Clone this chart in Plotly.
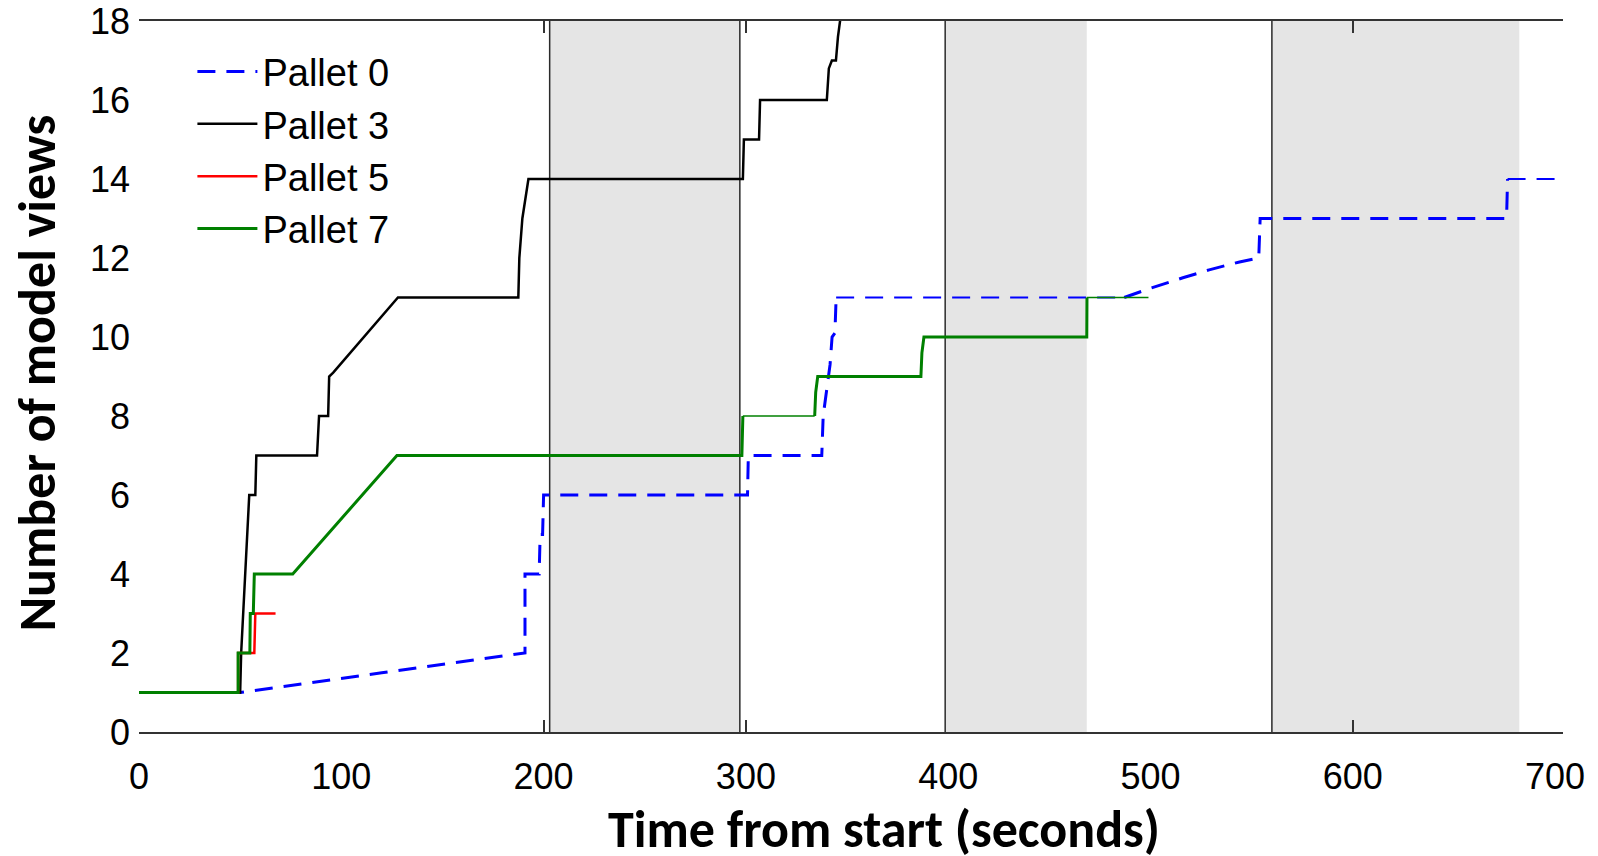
import plotly.graph_objects as go

# ---------------- data ----------------
pallet0_t = [0, 50, 120, 190.8, 190.8, 197.8, 198.3, 199.5, 200, 300.8, 301.2, 337.5, 338.2, 339.2,
             340.8, 341.6, 342.6, 344.0, 344.6, 487, 498, 516, 529, 544, 552, 553.5, 554.2, 676, 676.5, 703]
pallet0_v = [1, 1, 1.5, 2, 4, 4, 5, 5, 6, 6, 7, 7, 8, 8.4,
             9, 9.3, 10, 10.1, 11, 11, 11.2, 11.5, 11.7, 11.9, 12, 12, 13, 13, 14, 14]

pallet3_t = [0, 50, 50.5, 51.5, 52.5, 53.5, 54.5, 57.5, 58, 88, 89, 93.5, 94, 96, 128, 187.5, 188,
             189.5, 191, 192.5, 298.5, 299, 306.5, 307, 340, 341, 342.5, 344.5, 345.5, 346.8]
pallet3_v = [1, 1, 2, 3, 4, 5, 6, 6, 7, 7, 8, 8, 9, 9.1, 11, 11, 12,
             13, 13.5, 14, 14, 15, 15, 16, 16, 16.8, 17, 17, 17.6, 18.1]

pallet5_t = [0, 49, 49, 57, 57.5, 67.5]
pallet5_v = [1, 1, 2, 2, 3, 3]

pallet7_t = [0, 49, 49, 54.8, 55, 56.5, 57, 76, 127.5, 298, 298.5, 334, 334.5, 335.5, 386.5, 387,
             388, 468.5, 468.6, 499]
pallet7_v = [1, 1, 2, 2, 3, 3, 4, 4, 7, 7, 8, 8, 8.6, 9, 9, 9.6,
             10, 10, 11, 11]

shaded_intervals = [(203, 297), (398.5, 468.5), (560, 682.3)]
event_lines = [203, 297, 398.5, 560]

x_ticks = [0, 100, 200, 300, 400, 500, 600, 700]
y_ticks = [0, 2, 4, 6, 8, 10, 12, 14, 16, 18]
visible_tick_marks = [200, 300, 600]

# ---------------- styling (line weight varies along some curves) ----------------
# (first index, last index, width)
pallet0_segments = [(0, 18, 3), (18, 19, 2), (19, 28, 3), (28, 29, 2)]
pallet7_segments = [(0, 10, 3), (10, 11, 1.6), (11, 18, 3), (18, 19, 1.6)]

fig = go.Figure()


def add_segmented(t, v, segments, name, color, dash=None):
    for k, (i0, i1, w) in enumerate(segments):
        line = dict(color=color, width=w)
        if dash:
            line["dash"] = dash
        fig.add_trace(go.Scatter(x=t[i0:i1 + 1], y=v[i0:i1 + 1], mode="lines", name=name,
                                 legendgroup=name, showlegend=(k == 0), line=line))


add_segmented(pallet0_t, pallet0_v, pallet0_segments, "Pallet 0", "#0000ff", dash="18px,11px")
fig.add_trace(go.Scatter(x=pallet3_t, y=pallet3_v, mode="lines", name="Pallet 3",
                         legendgroup="Pallet 3", line=dict(color="#000000", width=2.5)))
fig.add_trace(go.Scatter(x=pallet5_t, y=pallet5_v, mode="lines", name="Pallet 5",
                         legendgroup="Pallet 5", line=dict(color="#ff0000", width=2.5)))
add_segmented(pallet7_t, pallet7_v, pallet7_segments, "Pallet 7", "#008000")
# empty trace to carry the tick-mark overlay axis
fig.add_trace(go.Scatter(x=[], y=[], xaxis="x2", showlegend=False, hoverinfo="skip"))

for a, b in shaded_intervals:
    fig.add_shape(type="rect", xref="x", yref="y", x0=a, x1=b, y0=0, y1=18,
                  fillcolor="#e5e5e5", line=dict(width=0), layer="below")
for xv in event_lines:
    fig.add_shape(type="line", xref="x", yref="y", x0=xv, x1=xv, y0=0, y1=18,
                  line=dict(color="#2a2a2a", width=1.5), layer="below")

tick_font = dict(family="Liberation Sans, Arial, sans-serif", size=36, color="#000000")
XR = [0, 703.9]

fig.update_layout(
    width=1598, height=856,
    margin=dict(l=139, r=35, t=21, b=124, autoexpand=False),
    paper_bgcolor="white", plot_bgcolor="white",
    showlegend=True,
    legend=dict(x=0.0375, y=0.973, xanchor="left", yanchor="top",
                bgcolor="rgba(0,0,0,0)", borderwidth=0, traceorder="normal",
                font=dict(family="Liberation Sans, Arial, sans-serif", size=38, color="#000000"),
                itemwidth=60, tracegroupgap=0),
    xaxis=dict(range=XR, tickvals=x_ticks, ticktext=[str(v) for v in x_ticks],
               showgrid=False, zeroline=False, showline=True, mirror=True,
               linecolor="#333333", linewidth=2, ticks="", tickfont=tick_font,
               ticklabelstandoff=12, automargin=False),
    xaxis2=dict(range=XR, overlaying="x", anchor="y", side="bottom",
                tickvals=visible_tick_marks, ticks="inside", ticklen=12, tickwidth=1.5,
                tickcolor="#333333", showticklabels=False, showgrid=False,
                zeroline=False, showline=False, mirror="ticks", automargin=False),
    yaxis=dict(range=[0, 18], tickvals=y_ticks, ticktext=[str(v) for v in y_ticks],
               showgrid=False, zeroline=False, showline=False, ticks="",
               tickfont=tick_font, ticklabelstandoff=8, automargin=False),
)

title_font = dict(family="Carlito, Calibri, Lato, sans-serif", size=52, color="#000000")
fig.add_annotation(text="<b>Time from start (seconds)</b>", xref="paper", yref="paper",
                   x=0.5235, y=-0.1845, xanchor="center", yanchor="bottom",
                   showarrow=False, font=title_font)
fig.add_annotation(text="<b>Number of model views</b>", xref="paper", yref="paper",
                   x=-0.0715, y=0.505, xanchor="center", yanchor="middle", textangle=-90,
                   showarrow=False, font=title_font)

fig.write_html("out.html", config={"displayModeBar": False},
               post_script="document.body.style.margin='0px';document.body.style.overflow='hidden';")
